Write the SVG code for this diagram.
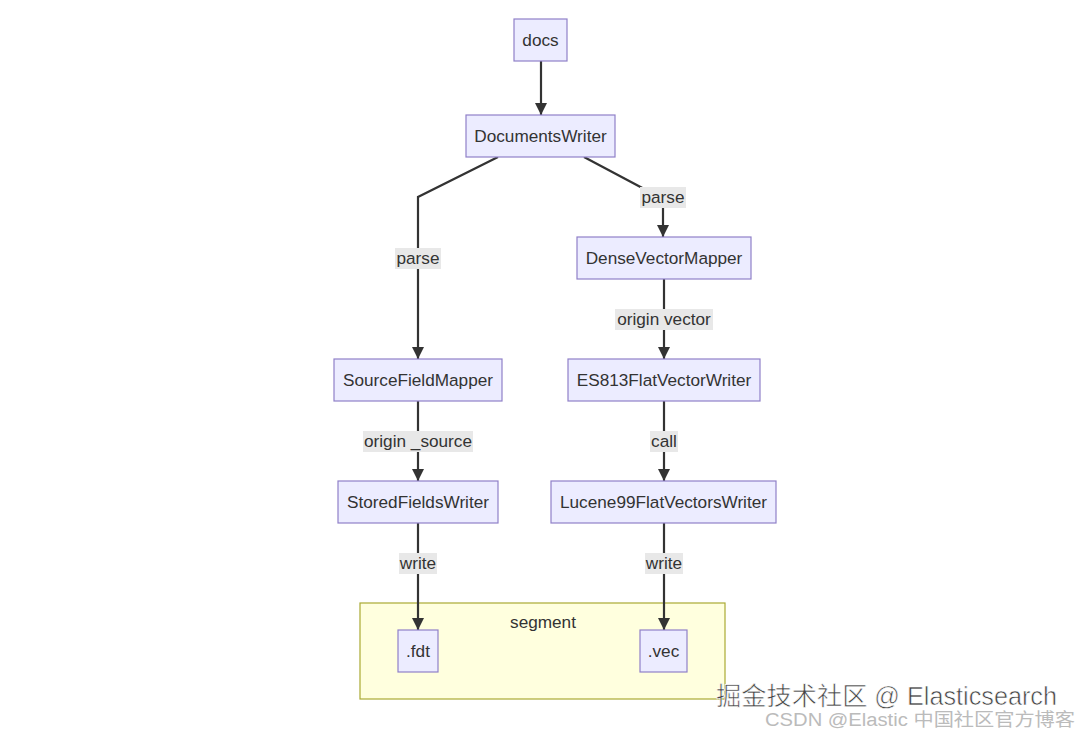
<svg xmlns="http://www.w3.org/2000/svg" width="1080" height="734" viewBox="0 0 1080 734">
<defs>
<marker id="arr" viewBox="0 0 10 10" refX="10" refY="5" markerWidth="12" markerHeight="12" orient="auto" markerUnits="userSpaceOnUse">
<path d="M0,0 L10,5 L0,10 z" fill="#333"/>
</marker>
<style>
.node rect{fill:#ECECFF;stroke:#9080c8;stroke-width:1.2}
.node text,.lbl text,.cl text{font-family:"Liberation Sans",Arial,sans-serif;font-size:17.2px;fill:#333;text-anchor:middle;dominant-baseline:central}
.edges path{fill:none;stroke:#333;stroke-width:2.2;marker-end:url(#arr)}
.lbl rect{fill:#e8e8e8}
.wm{font-family:"Liberation Sans","Noto Sans CJK SC",sans-serif}
</style>
</defs>
<rect width="1080" height="734" fill="#fff"/>
<g id="segment" class="cl">
<rect x="360" y="603" width="365" height="96" fill="#ffffde" stroke="#aaaa33" stroke-width="1.2"/>
<text x="543" y="622">segment</text>
</g>
<g id="edges" class="edges">
<path d="M541,61 V115"/>
<path d="M498,157 L418,197 V359"/>
<path d="M584,157 L663,199 V237"/>
<path d="M664,279 V359"/>
<path d="M664,401 V481"/>
<path d="M418,401 V481"/>
<path d="M418,523 V630"/>
<path d="M664,523 V630"/>
</g>
<g id="labels" class="lbl">
<g><rect x="395" y="248" width="46" height="21"/><text x="418" y="258">parse</text></g>
<g><rect x="640" y="187" width="46" height="21"/><text x="663" y="197">parse</text></g>
<g><rect x="615" y="309" width="98" height="21"/><text x="664" y="319">origin vector</text></g>
<g><rect x="363" y="431" width="110" height="21"/><text x="418" y="441">origin _source</text></g>
<g><rect x="650" y="431" width="28" height="21"/><text x="664" y="441">call</text></g>
<g><rect x="399" y="553" width="38" height="21"/><text x="418" y="563">write</text></g>
<g><rect x="645" y="553" width="38" height="21"/><text x="664" y="563">write</text></g>
</g>
<g id="docs" class="node"><rect x="514" y="19" width="53" height="42"/><text x="540.5" y="40">docs</text></g>
<g id="DocumentsWriter" class="node"><rect x="466" y="115" width="149" height="42"/><text x="540.5" y="136">DocumentsWriter</text></g>
<g id="DenseVectorMapper" class="node"><rect x="577" y="237" width="174" height="42"/><text x="664" y="258">DenseVectorMapper</text></g>
<g id="SourceFieldMapper" class="node"><rect x="334" y="359" width="168" height="42"/><text x="418" y="380">SourceFieldMapper</text></g>
<g id="ES813FlatVectorWriter" class="node"><rect x="568" y="359" width="192" height="42"/><text x="664" y="380">ES813FlatVectorWriter</text></g>
<g id="StoredFieldsWriter" class="node"><rect x="338" y="481" width="160" height="42"/><text x="418" y="502">StoredFieldsWriter</text></g>
<g id="Lucene99FlatVectorsWriter" class="node"><rect x="551" y="481" width="225" height="42"/><text x="663.5" y="502">Lucene99FlatVectorsWriter</text></g>
<g id="fdt" class="node"><rect x="398" y="630" width="40" height="42"/><text x="418" y="651">.fdt</text></g>
<g id="vec" class="node"><rect x="640" y="630" width="47" height="42"/><text x="663.5" y="651">.vec</text></g>
<g id="watermark">
<text class="wm" x="716" y="705" font-size="25" fill="#444" stroke="#fff" stroke-width="0.6" textLength="341" lengthAdjust="spacingAndGlyphs">掘金技术社区 @ Elasticsearch</text>
<text class="wm" x="765" y="726" font-size="18" fill="#bbb" textLength="310" lengthAdjust="spacingAndGlyphs">CSDN @Elastic 中国社区官方博客</text>
</g>
</svg>
